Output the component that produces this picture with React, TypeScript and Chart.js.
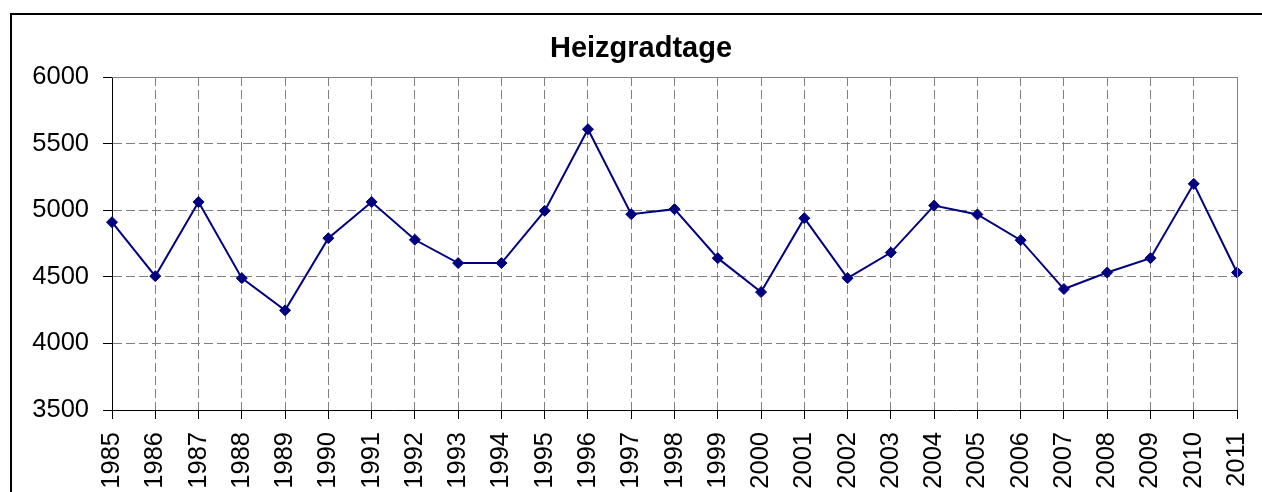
import React, { useEffect, useRef } from "react";
import { Chart, registerables } from "chart.js";

Chart.register(...registerables);

const years: string[] = [
  "1985", "1986", "1987", "1988", "1989", "1990", "1991", "1992", "1993",
  "1994", "1995", "1996", "1997", "1998", "1999", "2000", "2001", "2002",
  "2003", "2004", "2005", "2006", "2007", "2008", "2009", "2010", "2011",
];

const heizgradtage: number[] = [
  4910, 4505, 5062, 4490, 4248, 4790, 5062, 4778, 4603,
  4603, 4995, 5608, 4970, 5008, 4640, 4385, 4940, 4490,
  4682, 5035, 4968, 4775, 4408, 4532, 4640, 5198, 4532,
];

const yMin = 3500;
const yMax = 6000;
const yStep = 500;
const chartTitle = "Heizgradtage";

const FONT = "'Liberation Sans', Arial, sans-serif";

const plotFrame = {
  id: "plotFrame",
  afterLayout(chart: any) {
    // Excel centres the title on the whole chart frame rather than on the plot
    const tb = chart.titleBlock;
    if (tb) {
      tb.left += 15;
    }
  },
  afterDatasetsDraw(chart: any) {
    const { ctx, chartArea } = chart;
    ctx.save();
    ctx.strokeStyle = "#808080";
    ctx.lineWidth = 1;
    ctx.beginPath();
    ctx.moveTo(chartArea.left, chartArea.top + 0.5);
    ctx.lineTo(chartArea.right + 0.5, chartArea.top + 0.5);
    ctx.lineTo(chartArea.right + 0.5, chartArea.bottom);
    ctx.stroke();
    ctx.restore();
  },
};

export default function App() {
  const canvasRef = useRef<HTMLCanvasElement | null>(null);

  useEffect(() => {
    document.documentElement.style.overflow = "hidden";
    document.body.style.overflow = "hidden";
    const canvas = canvasRef.current;
    if (!canvas) return;
    const chart = new Chart(canvas, {
      type: "line",
      data: {
        labels: years,
        datasets: [
          {
            label: chartTitle,
            data: heizgradtage,
            borderColor: "#000080",
            backgroundColor: "#000080",
            borderWidth: 2,
            pointStyle: "rectRot",
            pointRadius: 5.5,
            pointBorderWidth: 1,
            pointBackgroundColor: "#000080",
            pointBorderColor: "#000080",
            tension: 0,
            clip: false as any,
          },
        ],
      },
      options: {
        responsive: false,
        animation: false,
        devicePixelRatio: 1,
        layout: { padding: { left: 18, right: 23, top: 0, bottom: 15 } },
        plugins: {
          legend: { display: false },
          tooltip: { enabled: false },
          title: {
            display: true,
            text: chartTitle,
            color: "#000",
            font: { family: FONT, size: 29, weight: "bold" },
            padding: { top: 16.5, bottom: 10.7 },
          },
        },
        scales: {
          x: {
            type: "category",
            offset: false,
            afterFit(scale: any) {
              scale.height = 80;
              scale.paddingLeft = 0;
              scale.paddingRight = 0;
            },
            grid: {
              color: "#808080",
              lineWidth: 1,
              tickLength: 9,
              tickColor: "#000",
              tickWidth: 1,
              tickBorderDash: [],
            },
            border: { display: true, color: "#000", width: 1, dash: [9, 4] },
            ticks: {
              autoSkip: false,
              maxRotation: 90,
              minRotation: 90,
              padding: 13,
              color: "#000",
              font: { family: FONT, size: 25.5 },
            },
          },
          y: {
            min: yMin,
            max: yMax,
            afterFit(scale: any) {
              scale.width = 82;
              scale.paddingTop = 0;
              scale.paddingBottom = 0;
            },
            grid: {
              color: "#808080",
              lineWidth: 1,
              tickLength: 9,
              tickColor: "#000",
              tickWidth: 1,
              tickBorderDash: [],
            },
            border: { display: true, color: "#000", width: 1, dash: [9, 4] },
            ticks: {
              stepSize: yStep,
              padding: 14,
              color: "#000",
              font: { family: FONT, size: 25.5 },
              callback: (value: any) => String(value),
            },
          },
        },
      },
      plugins: [plotFrame],
    });
    return () => chart.destroy();
  }, []);

  return (
    <div
      style={{
        position: "absolute",
        left: 10,
        top: 13,
        width: 1262,
        height: 500,
        border: "2px solid #000",
        background: "#fff",
      }}
    >
      <canvas
        ref={canvasRef}
        width={1248}
        height={490}
        style={{ display: "block", width: 1248, height: 490 }}
      />
    </div>
  );
}
